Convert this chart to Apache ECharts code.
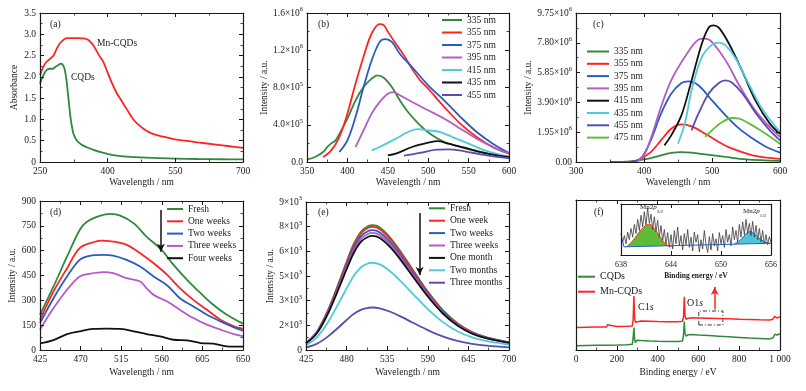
<!DOCTYPE html>
<html><head><meta charset="utf-8">
<script src="https://cdn.jsdelivr.net/npm/echarts@6/dist/echarts.min.js"></script>
<style>html,body{margin:0;padding:0;background:#fff}#c{width:806px;height:391px}</style>
</head><body><div id="c"></div>
<script>
// ---------------- DATA ----------------
// (a) UV-vis absorbance
const aXTicks = ['250','400','550','700'];
const aYTicks = ['0','0.5','1.0','1.5','2.0','2.5','3.0','3.5'];
const absMnCQDs = [[250,2.04],[258,2.25],[265,2.36],[272,2.42],[280,2.5],[288,2.68],[295,2.8],[303,2.88],[310,2.91],[320,2.91],[335,2.91],[350,2.9],[358,2.86],[368,2.74],[383,2.47],[390,2.36],[398,2.15],[410,1.84],[420,1.62],[430,1.45],[443,1.23],[457,1.0],[470,0.86],[485,0.74],[500,0.66],[520,0.6],[546,0.54],[570,0.5],[600,0.46],[640,0.41],[670,0.37],[700,0.33]];
const absCQDs = [[250,1.84],[255,1.98],[261,2.11],[267,2.18],[272,2.19],[278,2.19],[284,2.23],[291,2.28],[296,2.31],[300,2.29],[304,2.2],[308,1.98],[311,1.7],[314,1.4],[317,1.1],[320,0.88],[324,0.67],[330,0.53],[337,0.45],[345,0.39],[355,0.34],[370,0.28],[385,0.23],[400,0.19],[420,0.15],[450,0.12],[500,0.095],[550,0.08],[600,0.07],[650,0.065],[700,0.06]];

// (b) PL of CQDs at different excitation
const bXTicks = ['350','400','450','500','550','600'];
const bYTicks = [['0.0',''],['4.0×10','5'],['8.0×10','5'],['1.2×10','6'],['1.6×10','6']];
const bNames = ['335 nm','355 nm','375 nm','395 nm','415 nm','435 nm','455 nm'];
const b335 = [[350,25e3],[360,54e3],[370,107e3],[375,160e3],[380,200e3],[385,230e3],[390,300e3],[400,465e3],[410,660e3],[420,805e3],[430,895e3],[437,930e3],[445,905e3],[455,805e3],[465,660e3],[475,537e3],[490,394e3],[505,286e3],[520,215e3],[540,160e3],[560,118e3],[580,82e3],[600,54e3]];
const b355 = [[370,54e3],[380,125e3],[390,268e3],[400,519e3],[410,840e3],[420,1130e3],[430,1380e3],[440,1480e3],[445,1470e3],[450,1400e3],[460,1270e3],[470,1145e3],[480,1000e3],[490,877e3],[500,787e3],[520,590e3],[540,410e3],[560,268e3],[580,160e3],[600,89e3]];
const b375 = [[390,107e3],[400,233e3],[410,483e3],[420,805e3],[430,1090e3],[440,1290e3],[447,1320e3],[455,1290e3],[465,1160e3],[480,1020e3],[500,823e3],[520,660e3],[540,483e3],[560,322e3],[580,197e3],[600,97e3]];
const b395 = [[410,160e3],[420,340e3],[430,520e3],[440,645e3],[450,734e3],[457,750e3],[465,716e3],[480,645e3],[500,555e3],[520,465e3],[540,358e3],[560,250e3],[580,161e3],[600,89e3]];
const b415 = [[430,125e3],[440,161e3],[460,250e3],[475,322e3],[487,354e3],[500,340e3],[515,322e3],[530,268e3],[550,197e3],[570,125e3],[600,54e3]];
const b435 = [[450,72e3],[460,90e3],[480,161e3],[500,208e3],[512,225e3],[525,197e3],[545,154e3],[565,107e3],[585,72e3],[600,54e3]];
const b455 = [[470,68e3],[490,97e3],[510,132e3],[525,136e3],[545,115e3],[565,82e3],[585,54e3],[600,40e3]];

// (c) PL of Mn-CQDs at different excitation
const cXTicks = ['300','400','500','600'];
const cYTicks = [['0.00',''],['1.95×10','6'],['3.90×10','6'],['5.85×10','6'],['7.80×10','6'],['9.75×10','6']];
const cNames = ['335 nm','355 nm','375 nm','395 nm','415 nm','435 nm','455 nm','475 nm'];
const c335 = [[350,0],[380,0.04e6],[400,0.17e6],[420,0.37e6],[440,0.59e6],[455,0.65e6],[470,0.61e6],[490,0.5e6],[520,0.33e6],[550,0.17e6],[600,0.07e6]];
const c355 = [[370,0],[390,0.11e6],[410,0.65e6],[425,1.42e6],[440,2.18e6],[455,2.46e6],[470,2.33e6],[490,1.85e6],[510,1.31e6],[530,0.87e6],[560,0.44e6],[600,0.2e6]];
const c375 = [[380,0],[395,0.22e6],[410,1.42e6],[425,3.16e6],[440,4.47e6],[455,5.17e6],[465,5.28e6],[480,5.02e6],[500,4.03e6],[520,3.05e6],[540,2.18e6],[560,1.53e6],[580,0.98e6],[600,0.61e6]];
const c395 = [[390,0.04e6],[400,0.44e6],[410,1.53e6],[425,3.6e6],[440,5.34e6],[460,6.87e6],[480,8.0e6],[490,8.07e6],[500,7.85e6],[520,6.65e6],[540,5.02e6],[560,3.6e6],[580,2.51e6],[600,1.64e6]];
const c415 = [[430,1.09e6],[440,1.74e6],[455,3.05e6],[470,5.34e6],[485,7.74e6],[495,8.79e6],[502,8.94e6],[510,8.79e6],[525,7.74e6],[545,5.89e6],[565,3.93e6],[585,2.51e6],[600,1.85e6]];
const c435 = [[450,1.2e6],[460,2.51e6],[470,4.69e6],[485,6.87e6],[500,7.68e6],[510,7.81e6],[520,7.63e6],[535,6.76e6],[555,5.02e6],[575,3.38e6],[600,1.96e6]];
const c455 = [[470,2.07e6],[480,3.16e6],[495,4.47e6],[510,5.17e6],[520,5.34e6],[530,5.17e6],[545,4.47e6],[565,3.16e6],[585,2.07e6],[600,1.42e6]];
const c475 = [[490,1.64e6],[500,2.07e6],[515,2.62e6],[530,2.88e6],[540,2.84e6],[555,2.51e6],[575,1.96e6],[600,1.2e6]];

// (d) PL stability over weeks
const dXTicks = ['425','470','515','560','605','650'];
const dYTicks = ['0','150','300','450','600','750','900'];
const dNames = ['Fresh','One weeks','Two weeks','Three weeks','Four weeks'];
const dFresh = [[425,213],[440,384],[455,565],[469,725],[477,775],[492,812],[503,822],[514,812],[529,765],[543,685],[560,604],[573,514],[588,424],[603,343],[617,273],[632,213],[650,159]];
const dOne = [[425,183],[440,354],[455,494],[469,615],[484,651],[492,661],[506,655],[521,635],[536,585],[551,524],[566,454],[580,374],[595,303],[610,243],[625,183],[640,143],[650,129]];
const dTwo = [[425,163],[440,313],[455,444],[469,544],[480,568],[495,574],[506,570],[521,544],[536,504],[551,444],[566,390],[580,313],[595,263],[610,213],[625,173],[640,137],[650,117]];
const dThree = [[425,123],[440,253],[455,364],[469,444],[480,460],[495,470],[506,464],[521,434],[536,414],[543,374],[551,333],[566,293],[580,243],[595,193],[610,153],[625,123],[640,96],[650,84]];
const dFour = [[425,40],[440,60],[455,96],[469,113],[484,127],[499,129],[514,127],[529,113],[543,96],[558,82],[573,62],[588,58],[603,42],[617,38],[632,22],[650,20]];
const dArrow = [[559,845],[559,594]];

// (e) PL stability over months
const eXTicks = ['425','480','535','590','645','700'];
const eYTicks = [['0',''],['2×10','3'],['3×10','3'],['5×10','3'],['6×10','3'],['8×10','3'],['9×10','3']];
const eNames = ['Fresh','One week','Two weeks','Three weeks','One month','Two months','Three months'];
const eFresh = [[425,424],[440,1130],[455,2441],[470,4157],[480,5367],[490,6477],[500,7224],[510,7547],[515,7587],[525,7446],[540,6780],[555,5872],[570,4863],[590,3551],[610,2441],[630,1634],[650,1090],[670,767],[700,464]];
const eOneW = [[425,418],[440,1115],[455,2410],[470,4100],[480,5290],[490,6390],[500,7125],[510,7450],[515,7486],[525,7345],[540,6690],[555,5795],[570,4800],[590,3505],[610,2410],[630,1610],[650,1075],[670,757],[700,458]];
const eTwoW = [[425,407],[440,1085],[455,2345],[470,3990],[480,5150],[490,6220],[500,6935],[510,7250],[515,7284],[525,7145],[540,6510],[555,5640],[570,4670],[590,3410],[610,2345],[630,1565],[650,1045],[670,735],[700,445]];
const eThreeW = [[425,398],[440,1060],[455,2295],[470,3900],[480,5035],[490,6080],[500,6780],[510,7085],[515,7123],[525,6985],[540,6365],[555,5515],[570,4565],[590,3335],[610,2295],[630,1530],[650,1025],[670,720],[700,435]];
const eOneM = [[425,388],[440,1035],[455,2235],[470,3805],[480,4910],[490,5930],[500,6610],[510,6905],[515,6941],[525,6810],[540,6205],[555,5375],[570,4450],[590,3250],[610,2235],[630,1495],[650,1000],[670,700],[700,425]];
const eTwoM = [[425,300],[440,790],[455,1710],[470,2910],[480,3750],[490,4530],[500,5050],[510,5280],[515,5307],[525,5205],[540,4745],[555,4110],[570,3400],[590,2485],[610,1710],[630,1140],[650,765],[670,535],[700,325]];
const eThreeM = [[425,145],[440,385],[455,830],[470,1415],[480,1825],[490,2205],[500,2460],[510,2570],[515,2583],[525,2535],[540,2310],[555,2000],[570,1655],[590,1210],[610,830],[630,555],[650,372],[670,260],[700,158]];
const eArrow = [[579,8330],[579,4560]];

// (f) XPS survey (arbitrary offset intensity)
const fXTicks = ['0','200','400','600','800','1 000'];
const fNames = ['CQDs','Mn-CQDs'];
const xpsMnCQDs = [[0,15],[50,15.2],[100,15.3],[104,16.6],[108,15.3],[150,15.4],[154,16.8],[158,15.5],[200,15.6],[250,15.8],[276,16],[280,20],[284,36],[287,22],[291,18.5],[300,19.6],[320,19.4],[360,19.2],[400,19],[450,18.9],[500,18.9],[522,19.2],[527,22],[531,35.5],[534,23],[540,20.5],[550,21.2],[570,21.5],[600,21.4],[650,21.2],[700,21],[750,20.8],[800,20.5],[850,20.3],[900,20.1],[950,20],[965,20.5],[975,22.5],[985,21.3],[1000,22]];
const xpsCQDs = [[0,2.8],[50,3],[100,3.1],[104,4],[108,3.1],[150,3.2],[154,4.2],[158,3.2],[200,3.3],[250,3.5],[276,3.8],[280,8],[284,15],[287,7.5],[291,5],[300,6.5],[320,6.3],[360,6],[400,5.8],[450,5.7],[500,5.6],[522,6],[527,10],[531,19],[534,11],[540,9.2],[550,10.2],[570,10.3],[600,10],[650,9.6],[700,9.2],[750,8.8],[800,8.4],[850,8],[900,7.7],[950,7.4],[965,8],[975,10.5],[985,10],[1000,10.8]];
const fBox = [[602,16.7],[720,26]];
const fArrow = [[680,27],[680,42]];

// (f) inset: Mn 2p high-resolution
const insetTicks = ['638','644','650','656'];
const insetRaw = [[638.2,0.25],[638.4,0.38],[638.6,0.22],[638.8,0.45],[639.0,0.30],[639.2,0.52],[639.4,0.35],[639.6,0.60],[639.8,0.42],[640.0,0.70],[640.2,0.48],[640.4,0.78],[640.6,0.55],[640.8,0.85],[641.0,0.58],[641.2,0.92],[641.4,0.62],[641.6,0.80],[641.8,0.50],[642.0,0.75],[642.2,0.45],[642.4,0.68],[642.6,0.35],[642.8,0.58],[643.0,0.28],[643.2,0.50],[643.4,0.20],[643.6,0.44],[643.8,0.15],[644.0,0.40],[644.2,0.12],[644.4,0.48],[644.6,0.22],[644.8,0.55],[645.0,0.18],[645.2,0.38],[645.4,0.10],[645.6,0.42],[645.8,0.20],[646.0,0.50],[646.2,0.15],[646.4,0.35],[646.6,0.08],[646.8,0.45],[647.0,0.25],[647.2,0.40],[647.4,0.06],[647.6,0.30],[647.8,0.12],[648.0,0.48],[648.2,0.20],[648.4,0.05],[648.6,0.36],[648.8,0.10],[649.0,0.42],[649.2,0.18],[649.4,0.32],[649.6,0.08],[649.8,0.44],[650.0,0.22],[650.2,0.38],[650.4,0.15],[650.6,0.50],[650.8,0.25],[651.0,0.40],[651.2,0.18],[651.4,0.55],[651.6,0.30],[651.8,0.48],[652.0,0.25],[652.2,0.60],[652.4,0.35],[652.6,0.65],[652.8,0.40],[653.0,0.70],[653.2,0.42],[653.4,0.62],[653.6,0.38],[653.8,0.66],[654.0,0.35],[654.2,0.58],[654.4,0.30],[654.6,0.52],[654.8,0.26],[655.0,0.48],[655.2,0.22],[655.4,0.40],[655.6,0.20],[655.8,0.36],[656.0,0.25]];
const insetGreen = [[638.7,0.17],[639.2,0.24],[639.7,0.34],[640.1,0.43],[640.5,0.51],[640.9,0.57],[641.3,0.6],[641.6,0.59],[641.9,0.54],[642.2,0.47],[642.5,0.4],[642.8,0.33],[643.1,0.26],[643.4,0.21],[643.7,0.18],[644.1,0.165]];
const insetCyan = [[651.6,0.22],[651.9,0.24],[652.3,0.29],[652.7,0.36],[653.1,0.43],[653.5,0.46],[653.9,0.43],[654.3,0.37],[654.7,0.31],[655.1,0.27],[655.5,0.24],[655.9,0.23]];
const insetBase = [[638.0,0.42],[638.15,0.3],[638.35,0.16],[656.0,0.23]];

// ---------------- STYLE ----------------
const FONT = '"Liberation Serif","DejaVu Serif",serif';
const INK = '#1a1a1a';
const FS = 9.5;
const LW = 1.8;
const C = {green:'#2f8a3b', red:'#ff2424', blue:'#2a5cc0', mag:'#b25cc4', cyan:'#4ccbdb', black:'#111111', purple:'#5a4cb2', lgreen:'#5cbf3a'};
const bColors = [C.green,C.red,C.blue,C.mag,C.cyan,C.black,C.purple];
const cColors = [C.green,C.red,C.blue,C.mag,C.black,C.cyan,C.purple,C.lgreen];
const dColors = [C.green,C.red,C.blue,C.mag,C.black];
const eColors = [C.green,C.red,C.blue,C.mag,C.black,C.cyan,C.purple];
const fColors = [C.green,C.red];

const grids = [
  {left:40, top:13, width:203, height:149},
  {left:307, top:13, width:202, height:149},
  {left:576, top:13, width:204, height:149},
  {left:40, top:201, width:203, height:149},
  {left:306, top:202, width:203, height:148},
  {left:576, top:200, width:204, height:150},
  {left:621, top:204, width:150, height:51}
].map(g => Object.assign({outerBoundsMode:'none', containLabel:false}, g));

const xAxes = [], yAxes = [];
const richLab = {
  m:{fontFamily:FONT, fontSize:FS, color:INK, lineHeight:14},
  s:{fontFamily:FONT, fontSize:6.5, color:INK, lineHeight:8, verticalAlign:'top'}
};
function lineAx(){return {show:true, onZero:false, lineStyle:{color:INK, width:1.2}};}
function addAxes(gi, xc, yc) {
  const common = {gridIndex:gi, type:'value', splitLine:{show:false}, axisLine:lineAx(), z:6,
    axisTick:{show:true, inside:true, length:4, lineStyle:{color:INK, width:1}},
    minorTick:{show:true, splitNumber:2, length:2.5, lineStyle:{color:INK, width:0.8}}};
  const xb = Object.assign({}, common, {position:'bottom', min:xc.min, max:xc.max, interval:xc.interval,
    axisLabel:{show:true, margin:xc.margin||4, color:INK, fontFamily:FONT, fontSize:xc.fs||FS, formatter:(v,i)=>xc.ticks[i]},
    name:xc.name||'', nameLocation:'middle', nameGap:xc.nameGap||15.5,
    nameTextStyle:{fontFamily:FONT, fontSize:xc.nfs||FS, color:INK, fontWeight:xc.nfw||'normal'}});
  if (xc.noMinor) xb.minorTick = {show:false};
  const xt = Object.assign({}, common, {position:'top', min:xc.min, max:xc.max, interval:xc.interval, axisLabel:{show:false}});
  if (xc.noMinor) xt.minorTick = {show:false};
  xAxes.push(xb, xt);
  const yl = Object.assign({}, common, {position:'left', min:yc.min, max:yc.max, interval:yc.interval,
    axisLabel:{show:!!yc.ticks, margin:4, color:INK, fontFamily:FONT, fontSize:FS,
      formatter: yc.rich ? (v,i)=>'{m|'+yc.ticks[i][0]+'}'+(yc.ticks[i][1]?'{s|'+yc.ticks[i][1]+'}':'') : (v,i)=>yc.ticks ? yc.ticks[i] : '',
      rich: richLab},
    name:yc.name||'', nameLocation:'middle', nameGap:yc.nameGap||20,
    nameTextStyle:{fontFamily:FONT, fontSize:FS, color:INK}});
  const yr = Object.assign({}, common, {position:'right', min:yc.min, max:yc.max, interval:yc.interval, axisLabel:{show:false}});
  if (yc.noTicks) { yl.axisTick = {show:false}; yl.minorTick = {show:false}; yr.axisTick = {show:false}; yr.minorTick = {show:false}; }
  yAxes.push(yl, yr);
}
addAxes(0, {min:250,max:700,interval:150,ticks:aXTicks,name:'Wavelength / nm'}, {min:0,max:3.5,interval:0.5,ticks:aYTicks,name:'Absorbance',nameGap:20.5});
addAxes(1, {min:350,max:600,interval:50,ticks:bXTicks,name:'Wavelength / nm'}, {min:0,max:1.6e6,interval:4e5,ticks:bYTicks,rich:true,name:'Intensity / a.u.',nameGap:34.5});
addAxes(2, {min:300,max:600,interval:100,ticks:cXTicks,name:'Wavelength / nm'}, {min:0,max:9.75e6,interval:1.95e6,ticks:cYTicks,rich:true,name:'Intensity / a.u.',nameGap:38.5});
addAxes(3, {min:425,max:650,interval:45,ticks:dXTicks,name:'Wavelength / nm',nameGap:17.5}, {min:0,max:900,interval:150,ticks:dYTicks,name:'Intensity / a.u.',nameGap:20.5});
addAxes(4, {min:425,max:700,interval:55,ticks:eXTicks,name:'Wavelength / nm',nameGap:17.5}, {min:0,max:9000,interval:1500,ticks:eYTicks,rich:true,name:'Intensity / a.u.',nameGap:30.5});
addAxes(5, {min:0,max:1000,interval:200,ticks:fXTicks,name:'Binding energy / eV',nameGap:17.5}, {min:0,max:100,interval:100,noTicks:true});
addAxes(6, {min:638,max:656,interval:6,ticks:insetTicks,name:'Binding energy / eV',nameGap:17,fs:8,nfs:7.5,nfw:'bold',margin:6,noMinor:true}, {min:0,max:1,interval:1,noTicks:true});

const series = [];
function addLine(gi, name, data, color, extra) {
  series.push(Object.assign({type:'line', name, data, xAxisIndex:2*gi, yAxisIndex:2*gi,
    symbol:'none', smooth:0.35, lineStyle:{color, width:LW}, itemStyle:{color}, silent:true, z:3}, extra||{}));
}
addLine(0,'CQDs',absCQDs,C.green);
addLine(0,'Mn-CQDs',absMnCQDs,C.red);
[b335,b355,b375,b395,b415,b435,b455].forEach((d,i)=>addLine(1,bNames[i],d,bColors[i]));
[c335,c355,c375,c395,c415,c435,c455,c475].forEach((d,i)=>addLine(2,cNames[i],d,cColors[i]));
[dFresh,dOne,dTwo,dThree,dFour].forEach((d,i)=>addLine(3,dNames[i],d,dColors[i]));
[eFresh,eOneW,eTwoW,eThreeW,eOneM,eTwoM,eThreeM].forEach((d,i)=>addLine(4,eNames[i],d,eColors[i]));
addLine(5,'CQDs',xpsCQDs,C.green,{smooth:false, lineStyle:{color:C.green,width:1.5}});
addLine(5,'Mn-CQDs',xpsMnCQDs,C.red,{smooth:false, lineStyle:{color:C.red,width:1.5},
  markArea:{silent:true, itemStyle:{color:'rgba(0,0,0,0)', borderColor:'#333', borderWidth:1, borderType:[4,2,1,2]},
    data:[[{coord:fBox[0]},{coord:fBox[1]}]]},
  markLine:{silent:true, symbol:['none','arrow'], symbolSize:[6,8], label:{show:false},
    lineStyle:{color:C.red, width:1.5, type:'solid'}, data:[[{coord:fArrow[0]},{coord:fArrow[1]}]]}});
// arrows in (d) and (e)
function arrowLine(gi, pts) {
  series.push({type:'line', data:[], xAxisIndex:2*gi, yAxisIndex:2*gi, silent:true,
    markLine:{silent:true, symbol:['none','arrow'], symbolSize:[6,8], label:{show:false}, animation:false,
      lineStyle:{color:'#111', width:1.5, type:'solid'}, data:[[{coord:pts[0]},{coord:pts[1]}]]}});
}
arrowLine(3, dArrow);
arrowLine(4, eArrow);
// inset
const ins = {xAxisIndex:12, yAxisIndex:12, type:'line', symbol:'none', silent:true};
series.push(Object.assign({}, ins, {data:insetGreen, smooth:0.4, z:2, lineStyle:{width:0}, areaStyle:{color:'#5cbd34', opacity:1}}));
series.push(Object.assign({}, ins, {data:insetCyan, smooth:0.4, z:2, lineStyle:{width:0}, areaStyle:{color:'#4cc4d6', opacity:1}}));
series.push(Object.assign({}, ins, {data:insetBase, z:3, lineStyle:{width:0}, areaStyle:{color:'#ffffff', opacity:1}}));
series.push(Object.assign({}, ins, {data:insetRaw, z:4, lineStyle:{color:'#3a3a3a', width:0.8}}));
series.push(Object.assign({}, ins, {data:insetGreen, smooth:0.4, z:5, lineStyle:{color:'#ff3030', width:1}}));
series.push(Object.assign({}, ins, {data:insetCyan, smooth:0.4, z:5, lineStyle:{color:'#2a5cc0', width:1}}));
series.push(Object.assign({}, ins, {data:insetBase, z:5, lineStyle:{color:'#2a5cc0', width:1}}));

function legend(left, top, names, colors, iw, gap, fs) {
  return {left, top, orient:'vertical', icon:'rect', itemWidth:iw, itemHeight:2, itemGap:gap, padding:0,
    selectedMode:false, textStyle:{fontFamily:FONT, fontSize:fs||FS, color:INK, lineHeight:12},
    data:names.map((n,i)=>({name:n, itemStyle:{color:colors[i], borderWidth:0}}))};
}
const legends = [
  legend(442, 14, bNames, bColors, 20, 0.5),
  legend(587, 45.5, cNames, cColors, 22, 0.3),
  legend(167, 203, dNames, dColors, 16, 0.3),
  legend(429, 202.3, eNames, eColors, 16, 0.4),
  legend(578, 270.7, fNames, fColors, 17, 3, 10)
];

function txt(x, y, text, size, extra) {
  return {type:'text', x, y, silent:true, z:20, style:Object.assign({text, fontFamily:FONT, fontSize:size||FS, fill:INK, align:'left', verticalAlign:'middle'}, extra||{})};
}
const graphics = [
  txt(50,24,'(a)'), txt(318,24,'(b)'), txt(593,24,'(c)'),
  txt(50,212,'(d)'), txt(318,212,'(e)'), txt(594,212,'(f)'),
  txt(97,43,'Mn-CQDs'), txt(71,77,'CQDs'),
  txt(638,307,'{n|C1}{i|s}',10,{rich:{n:{fontFamily:FONT,fontSize:10,fill:INK},i:{fontFamily:FONT,fontSize:10,fontStyle:'italic',fill:INK}}}),
  txt(687,303,'{n|O1}{i|s}',10,{rich:{n:{fontFamily:FONT,fontSize:10,fill:INK},i:{fontFamily:FONT,fontSize:10,fontStyle:'italic',fill:INK}}}),
  txt(640,209,'{n|Mn2}{i|p}{s|3/2}',7,{rich:{n:{fontFamily:FONT,fontSize:7,fill:INK,lineHeight:10,verticalAlign:'top'},i:{fontFamily:FONT,fontSize:7,fontStyle:'italic',fill:INK,lineHeight:10,verticalAlign:'top'},s:{fontFamily:FONT,fontSize:5,fill:INK,lineHeight:10,verticalAlign:'bottom'}}}),
  txt(743,213,'{n|Mn2}{i|p}{s|1/2}',7,{rich:{n:{fontFamily:FONT,fontSize:7,fill:INK,lineHeight:10,verticalAlign:'top'},i:{fontFamily:FONT,fontSize:7,fontStyle:'italic',fill:INK,lineHeight:10,verticalAlign:'top'},s:{fontFamily:FONT,fontSize:5,fill:INK,lineHeight:10,verticalAlign:'bottom'}}})
];

const chart = echarts.init(document.getElementById('c'), null, {renderer:'canvas'});
chart.setOption({
  animation:false,
  backgroundColor:'#ffffff',
  grid:grids, xAxis:xAxes, yAxis:yAxes, series, legend:legends, graphic:graphics
});
</script>
</body></html>
